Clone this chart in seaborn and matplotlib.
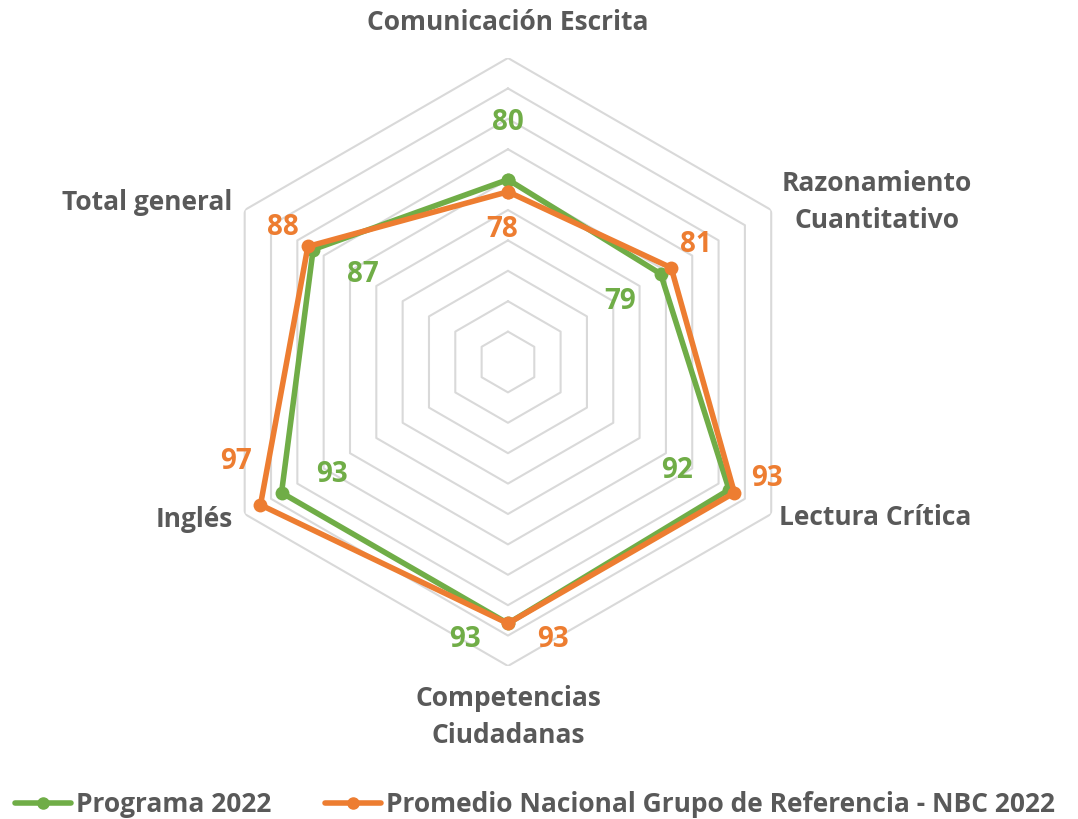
import numpy as np
import pandas as pd
import matplotlib
matplotlib.use('Agg')
import matplotlib.pyplot as plt
import seaborn as sns
from matplotlib.lines import Line2D

categorias = ['Comunicación Escrita', 'Razonamiento\nCuantitativo', 'Lectura Crítica',
              'Competencias\nCiudadanas', 'Inglés', 'Total general']
programa = [80, 79, 92, 93, 93, 87]
nbc = [78, 81, 93, 93, 97, 88]
series = ['Programa 2022', 'Promedio Nacional Grupo de Referencia - NBC 2022']
anillos = [55, 60, 65, 70, 75, 80, 85, 90, 95, 100]

VERDE = '#70AD47'
NARANJA = '#ED7D31'
GRIS = '#595959'

sns.set_theme(style='white')
plt.rcParams['font.family'] = ['Open Sans', 'DejaVu Sans']
plt.rcParams['font.weight'] = 'bold'

n = len(categorias)
theta = np.linspace(0, 2 * np.pi, n, endpoint=False)
theta_c = np.append(theta, 2 * np.pi)

rows = []
for nombre, vals in zip(series, [programa, nbc]):
    for t, v in zip(theta_c, vals + vals[:1]):
        rows.append({'theta': t, 'valor': v, 'serie': nombre})
df = pd.DataFrame(rows)

fig = plt.figure(figsize=(10.78, 8.19), dpi=100)
ax = fig.add_axes([0.1892, 0.1868, 0.564, 0.7424], projection='polar')
ax.set_theta_offset(np.pi / 2)
ax.set_theta_direction(-1)
ax.set_ylim(50, 100)
ax.grid(False)
ax.spines['polar'].set_visible(False)
ax.set_xticks([])
ax.set_yticks([])
ax.patch.set_alpha(0)

# hexagon grid
for r in anillos:
    ax.plot(theta_c, [r] * (n + 1), color='#D9D9D9', lw=1.5, zorder=1)

sns.lineplot(data=df, x='theta', y='valor', hue='serie', palette=[VERDE, NARANJA],
             marker='o', markersize=10, markeredgewidth=0, lw=4, sort=False,
             estimator=None, legend=False, ax=ax, zorder=3)
ax.set_xlabel('')
ax.set_ylabel('')

# value labels (offsets in pixels, y up)
off_prog = [(0, 57), (-41, -28), (-52, 19), (-43, -16), (50, 18), (50, -25)]
off_nbc = [(-6, -38), (25, 23), (33, 14), (45, -16), (-24, 43), (-25, 19)]
for vals, offs, col in [(programa, off_prog, VERDE), (nbc, off_nbc, NARANJA)]:
    for t, v, o in zip(theta, vals, offs):
        ax.annotate(str(v), (t, v), xytext=o, textcoords='offset pixels',
                    ha='center', va='center', color=col, fontsize=20,
                    fontweight='bold', annotation_clip=False)

# category labels
off_cat = [(0, 36, 'center'), (106, 8, 'center'), (104, -4, 'center'),
           (0, -51, 'center'), (-12, -6, 'right'), (-12, 8, 'right')]
for t, c, (dx, dy, ha) in zip(theta, categorias, off_cat):
    ax.annotate(c, (t, 100), xytext=(dx, dy), textcoords='offset pixels',
                ha=ha, va='center', color=GRIS, fontsize=19, fontweight='bold',
                linespacing=1.45, annotation_clip=False)

handles = [Line2D([0], [0], color=VERDE, lw=4, marker='o', markersize=8),
           Line2D([0], [0], color=NARANJA, lw=4, marker='o', markersize=8)]
leg = fig.legend(handles, series, loc='lower left', bbox_to_anchor=(-0.008, -0.028),
                 ncol=2, frameon=False, handlelength=2.1, handletextpad=0.2,
                 columnspacing=2.05, prop={'size': 19, 'weight': 'bold'})
for txt in leg.get_texts():
    txt.set_color(GRIS)

fig.savefig('out.png', dpi=100, facecolor='white')
